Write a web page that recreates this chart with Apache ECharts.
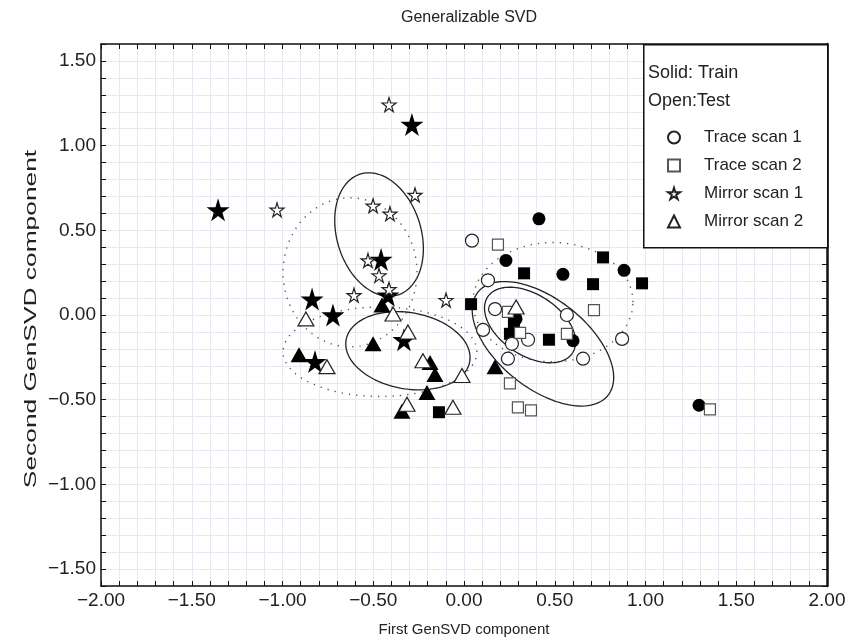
<!DOCTYPE html>
<html>
<head>
<meta charset="utf-8">
<script src="https://cdn.jsdelivr.net/npm/echarts@6/dist/echarts.min.js"></script>
<style>
html, body { margin: 0; padding: 0; background: #fff; }
#main { width: 852px; height: 642px; }
</style>
</head>
<body>
<div id="main"></div>
<script>
// solid = train, open = test
var traceScan1Train = [[0.413, 0.568], [0.231, 0.322], [0.545, 0.240], [0.882, 0.264], [0.287, -0.023], [0.601, -0.152], [1.295, -0.533]];
var traceScan1Test = [[0.044, 0.439], [0.132, 0.205], [0.171, 0.035], [0.567, 0.0], [0.105, -0.088], [0.353, -0.146], [0.264, -0.170], [0.871, -0.141], [0.656, -0.258], [0.242, -0.258]];
var traceScan2Train = [[0.331, 0.246], [0.766, 0.340], [0.711, 0.182], [0.981, 0.187], [0.039, 0.064], [0.275, -0.053], [0.253, -0.111], [0.468, -0.146], [-0.138, -0.574]];
var traceScan2Test = [[0.187, 0.416], [0.716, 0.029], [0.242, 0.018], [0.309, -0.105], [0.567, -0.111], [0.253, -0.404], [0.297, -0.545], [0.369, -0.563], [1.355, -0.557]];
var mirrorScan1Train = [[-0.287, 1.125], [-1.355, 0.621], [-0.457, 0.328], [-0.419, 0.117], [-0.837, 0.094], [-0.722, 0.0], [-0.331, -0.146], [-0.821, -0.275]];
var mirrorScan1Test = [[-0.413, 1.242], [-1.030, 0.621], [-0.270, 0.709], [-0.501, 0.645], [-0.408, 0.598], [-0.529, 0.322], [-0.468, 0.234], [-0.413, 0.152], [-0.606, 0.117], [-0.099, 0.088]];
var mirrorScan2Train = [[-0.452, 0.059], [-0.501, -0.170], [-0.909, -0.234], [-0.187, -0.281], [-0.160, -0.352], [-0.204, -0.457], [-0.342, -0.568], [0.171, -0.305]];
var mirrorScan2Test = [[-0.871, -0.023], [-0.391, 0.006], [-0.309, -0.100], [-0.755, -0.305], [-0.226, -0.270], [-0.011, -0.357], [-0.314, -0.527], [-0.061, -0.545], [0.287, 0.047]];

// ellipses: centre x, centre y, half axis u (x, y), half axis v (x, y)
var ellipsesSolid = [
	[-0.468, 0.475, -0.033, 0.363, 0.242, -0.035],
	[-0.309, -0.211, 0.342, -0.029, -0.017, 0.229],
	[0.364, -0.059, 0.248, -0.129, 0.039, 0.182],
	[0.435, -0.170, 0.358, -0.305, 0.154, 0.205]
];
var ellipsesDotted = [
	[0.490, 0.076, 0.441, 0.0, 0.0, 0.352],
	[-0.628, 0.252, 0.369, 0.0, 0.0, 0.44],
	[-0.463, -0.217, 0.534, 0.0, 0.0, 0.264]
];

var legendNames = ['Trace scan 1', 'Trace scan 2', 'Mirror scan 1', 'Mirror scan 2'];

var starPath = 'path://M50,0L61,35L98,35L68,57L79,91L50,70L21,91L32,57L2,35L39,35Z';
var fontName = '"Liberation Sans", Arial, sans-serif';

function fmt(v) {
	if (Math.abs(v * 2 - Math.round(v * 2)) > 1e-6) return '';
	return (v < -1e-9 ? '\u2212' : '') + Math.abs(v).toFixed(2);
}

function renderEllipse(params, api) {
	var cx = api.value(0), cy = api.value(1);
	var ux = api.value(2), uy = api.value(3), vx = api.value(4), vy = api.value(5);
	var pts = [];
	for (var i = 0; i <= 120; i++) {
		var t = i / 120 * Math.PI * 2;
		pts.push(api.coord([cx + ux * Math.cos(t) + vx * Math.sin(t), cy + uy * Math.cos(t) + vy * Math.sin(t)]));
	}
	return { type: 'polyline', shape: { points: pts }, style: api.style({ fill: null }) };
}

function axis(pos, min, max, isMain) {
	return {
		type: 'value',
		position: pos,
		min: min,
		max: max,
		interval: 0.1,
		axisLine: { show: true, onZero: false, lineStyle: { color: '#111', width: (pos == 'right' ? 2.5 : 1.5) } },
		axisTick: { show: true, inside: true, length: 5, lineStyle: { color: '#111', width: 1 } },
		axisLabel: { show: isMain, formatter: fmt, color: '#222', fontSize: 19, fontFamily: fontName, margin: 5 },
		splitLine: { show: isMain, lineStyle: { color: '#e8e8f3', width: 1 } }
	};
}

function openStyle(color) {
	return { color: '#fff', borderColor: color, borderWidth: 1.2, opacity: 1 };
}

var chart = echarts.init(document.getElementById('main'));

var xMain = axis('bottom', -2, 2, true);
xMain.name = 'First GenSVD component';
xMain.nameLocation = 'middle';
xMain.nameGap = 36;
xMain.nameTextStyle = { fontSize: 15, color: '#222', fontFamily: fontName };

var option = {
	animation: false,
	backgroundColor: '#fff',
	title: {
		text: 'Generalizable SVD',
		left: 464,
		top: 5,
		textAlign: 'center',
		textStyle: { fontSize: 16, fontWeight: 'normal', color: '#222', fontFamily: fontName }
	},
	grid: { left: 101, right: 25, top: 44, bottom: 53 },
	xAxis: [xMain, axis('top', -2, 2, false)],
	yAxis: [axis('left', -1.6, 1.6, true), axis('right', -1.6, 1.6, false)],
	legend: {
		data: legendNames,
		orient: 'vertical',
		left: 667,
		top: 129,
		z: 60,
		itemWidth: 12,
		itemHeight: 12,
		itemGap: 11,
		padding: 0,
		selectedMode: false,
		textStyle: { fontSize: 17, lineHeight: 16, color: '#222', fontFamily: fontName, padding: [0, 0, 0, 19] }
	},
	graphic: [
		{ type: 'rect', left: 643, top: 44, z: 50, shape: { width: 184, height: 203 }, style: { fill: '#fff', stroke: '#111', lineWidth: 1.5 } },
		{ type: 'text', left: 648, top: 64, z: 51, style: { text: 'Solid: Train', fill: '#222', font: '18px ' + fontName } },
		{ type: 'text', left: 648, top: 92, z: 51, style: { text: 'Open:Test', fill: '#222', font: '18px ' + fontName } },
		// y axis title, drawn stretched along its length as in the source figure
		{ type: 'text', x: 31, y: 319, rotation: Math.PI / 2, scaleX: 1.55, z: 51,
		  style: { text: 'Second GenSVD component', fill: '#222', font: '17px ' + fontName, align: 'center', verticalAlign: 'middle' } }
	],
	series: [
		{ type: 'custom', name: 'solid ellipses', renderItem: renderEllipse, data: ellipsesSolid, encode: { x: 0, y: 1 }, silent: true, z: 1,
		  itemStyle: { color: 'none', borderColor: '#222', borderWidth: 1.3 } },
		{ type: 'custom', name: 'dotted ellipses', renderItem: function (params, api) {
				var el = renderEllipse(params, api);
				el.style.lineDash = [1.3, 6];
				return el;
			}, data: ellipsesDotted, encode: { x: 0, y: 1 }, silent: true, z: 1,
		  itemStyle: { color: 'none', borderColor: '#555', borderWidth: 1.4 } },
		{ type: 'scatter', name: 'Trace scan 1 train', data: traceScan1Train, symbol: 'circle', symbolSize: 13, itemStyle: { color: '#000', opacity: 1 }, z: 3 },
		{ type: 'scatter', name: 'Trace scan 2 train', data: traceScan2Train, symbol: 'rect', symbolSize: 12, itemStyle: { color: '#000', opacity: 1 }, z: 3 },
		{ type: 'scatter', name: 'Mirror scan 1 train', data: mirrorScan1Train, symbol: starPath, symbolSize: 23, itemStyle: { color: '#000', opacity: 1 }, z: 3 },
		{ type: 'scatter', name: 'Mirror scan 2 train', data: mirrorScan2Train, symbol: 'triangle', symbolSize: [17, 15], itemStyle: { color: '#000', opacity: 1 }, z: 3 },
		{ type: 'scatter', name: 'Trace scan 1', data: traceScan1Test, symbol: 'circle', symbolSize: 13, itemStyle: openStyle('#222'), z: 4 },
		{ type: 'scatter', name: 'Trace scan 2', data: traceScan2Test, symbol: 'rect', symbolSize: 11, itemStyle: openStyle('#555'), z: 4 },
		{ type: 'scatter', name: 'Mirror scan 1', data: mirrorScan1Test, symbol: starPath, symbolSize: 14, itemStyle: openStyle('#222'), z: 4 },
		{ type: 'scatter', name: 'Mirror scan 2', data: mirrorScan2Test, symbol: 'triangle', symbolSize: [16, 14], itemStyle: openStyle('#222'), z: 4 }
	]
};

chart.setOption(option);
</script>
</body>
</html>
